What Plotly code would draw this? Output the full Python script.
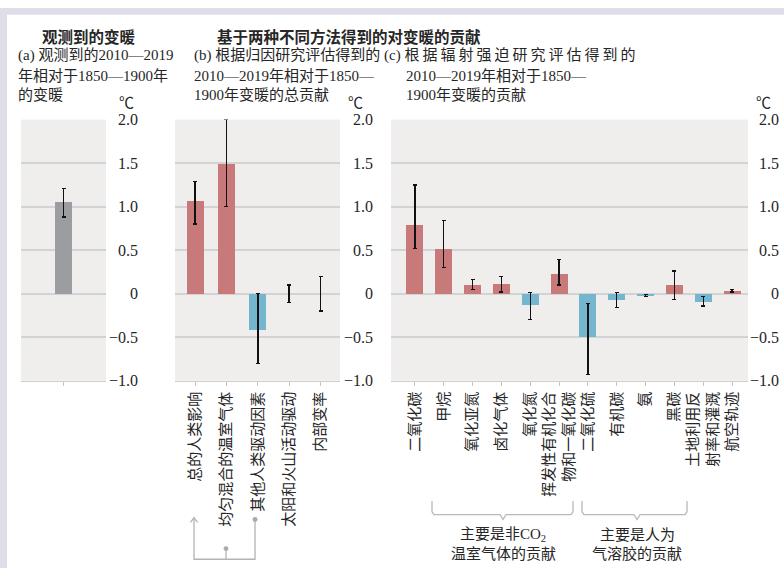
import plotly.graph_objects as go

W, H = 784, 577

# ---------------- data ----------------
a_labels = [""]
a_values = [1.06]
a_low = [0.88]
a_high = [1.21]

b_labels = ["总的人类影响", "均匀混合的温室气体", "其他人类驱动因素", "太阳和火山活动驱动", "内部变率"]
b_values = [1.07, 1.50, -0.41, 0.0, 0.0]
b_low = [0.80, 1.00, -0.80, -0.10, -0.20]
b_high = [1.29, 2.00, 0.00, 0.10, 0.20]

c_labels = ["二氧化碳", "甲烷", "氧化亚氮", "卤化气体", "氧化氮",
            "挥发性有机化合<br>物和一氧化碳", "二氧化硫", "有机碳", "氨", "黑碳",
            "土地利用反<br>射率和灌溉", "航空轨迹"]
c_values = [0.79, 0.52, 0.10, 0.11, -0.13, 0.23, -0.49, -0.07, -0.02, 0.10, -0.09, 0.03]
c_low = [0.52, 0.30, 0.05, 0.02, -0.30, 0.10, -0.93, -0.16, -0.03, -0.07, -0.14, 0.02]
c_high = [1.25, 0.84, 0.16, 0.20, 0.01, 0.39, -0.11, 0.01, -0.01, 0.26, -0.03, 0.045]

y_tickvals = [-1.0, -0.5, 0, 0.5, 1.0, 1.5, 2.0]
y_ticktext = ["−1.0", "−0.5", "0", "0.5", "1.0", "1.5", "2.0"]

# ---------------- style ----------------
RED = "#c77a79"
BLUE = "#73b6cd"
GREY = "#9c9da1"
BG = "#efeeec"
GRID = "#d3d3d3"
TXT = "#262626"
FONT = "Liberation Serif, Noto Sans CJK SC"
CJK_BOLD = "Noto Sans CJK SC"


def px(x):
    return x / W


def py(y):
    return 1 - y / H


def colors_for(vals):
    return [RED if v > 0 else BLUE for v in vals]


def err(vals, lo, hi):
    return dict(type="data", symmetric=False,
                array=[h - v for v, h in zip(vals, hi)],
                arrayminus=[v - l for v, l in zip(vals, lo)],
                color="#111111", thickness=1.4, width=2)


fig = go.Figure()
fig.add_trace(go.Bar(x=a_labels, y=a_values, marker_color=GREY, width=0.21,
                     error_y=err(a_values, a_low, a_high), xaxis="x", yaxis="y"))
fig.add_trace(go.Bar(x=b_labels, y=b_values, marker_color=colors_for(b_values), width=0.54,
                     error_y=err(b_values, b_low, b_high), xaxis="x2", yaxis="y2"))
fig.add_trace(go.Bar(x=c_labels, y=c_values, marker_color=colors_for(c_values), width=0.59,
                     error_y=err(c_values, c_low, c_high), xaxis="x3", yaxis="y3"))
for t in fig.data:
    t.marker.line.width = 0

ydom = [py(384), py(115)]
xdoms = [[px(21), px(106)], [px(175), px(340)], [px(391), px(748)]]
xranges = [[-0.5, 0.5], [-0.64, 4.62], [-0.83, 11.55]]
label_edges = [138, 373, 779]

layout = dict(
    width=W, height=H, autosize=False, margin=dict(l=0, r=0, t=0, b=0, pad=0),
    paper_bgcolor="white", plot_bgcolor=BG, showlegend=False,
    font=dict(family=FONT, size=15, color=TXT),
    bargap=0,
)
for i in range(3):
    sfx = "" if i == 0 else str(i + 1)
    layout["xaxis" + sfx] = dict(
        domain=xdoms[i], anchor="y" + sfx, type="category", range=xranges[i],
        showgrid=False, zeroline=False, showline=True, linecolor="#cfcfcf", linewidth=1,
        ticks="outside", ticklen=4, tickcolor="#c4c4c4", tickwidth=1,
        tickangle=-90, showticklabels=(i != 0),
        tickfont=dict(family="Noto Sans CJK SC", size=15, color=TXT),
        fixedrange=True,
    )
    layout["yaxis" + sfx] = dict(
        domain=ydom, anchor="free", position=px(label_edges[i]), side="left",
        range=[-1, 2], tickvals=y_tickvals, ticktext=y_ticktext,
        showgrid=True, gridcolor=GRID, gridwidth=1.5, zeroline=False,
        showline=False, ticks="", tickfont=dict(family="Liberation Serif", size=16, color=TXT),
        fixedrange=True,
    )

fig.update_layout(**layout)

# ---------------- text ----------------
ann = []


def text(x, y, s, size=15, family=FONT, xanchor="left", color=TXT):
    ann.append(dict(x=px(x), y=py(y), xref="paper", yref="paper", text=s, showarrow=False,
                    xanchor=xanchor, yanchor="middle",
                    font=dict(family=family, size=size, color=color)))


text(40, 29, "<b>观测到的变暖</b>", size=15.5, family=CJK_BOLD)
text(215, 29, "<b>基于两种不同方法得到的对变暖的贡献</b>", size=15.5, family=CJK_BOLD)

text(16, 49, "(a) 观测到的2010—2019")
text(16, 70, "年相对于1850—1900年")
text(16, 90, "的变暖")

text(192, 49, "(b) 根据归因研究评估得到的")
text(192, 70, "2010—2019年相对于1850—")
text(192, 90, "1900年变暖的总贡献")

text(382, 49, "(c) " + "\u2009".join("根据辐射强迫研究评估得到的"))
text(404, 70, "2010—2019年相对于1850—")
text(404, 90, "1900年变暖的贡献")

for cx in (126, 355, 763):
    text(cx, 98, "℃", size=15, xanchor="center")

text(503, 543, "主要是非CO<sub>2</sub>", xanchor="center")
text(503, 563, "温室气体的贡献", xanchor="center")
text(637, 543, "主要是人为", xanchor="center")
text(637, 563, "气溶胶的贡献", xanchor="center")

# ---------------- decorations ----------------
shapes = []
LAV = "#dfdde9"
shapes.append(dict(type="rect", xref="paper", yref="paper", x0=0, x1=1, y0=py(7), y1=1,
                   fillcolor=LAV, line=dict(width=0), layer="below"))
shapes.append(dict(type="rect", xref="paper", yref="paper", x0=0, x1=px(7), y0=0, y1=1,
                   fillcolor=LAV, line=dict(width=0), layer="below"))


def path(points, color="#b9b9b9", width=1.3):
    d = "M " + " L ".join(f"{px(x):.5f},{py(y):.5f}" for x, y in points)
    shapes.append(dict(type="path", xref="paper", yref="paper", path=d,
                       line=dict(color=color, width=width)))


def dot(x, y, r=2.5, color="#aaaaaa"):
    shapes.append(dict(type="circle", xref="paper", yref="paper",
                       x0=px(x - r), x1=px(x + r), y0=py(y + r), y1=py(y - r),
                       fillcolor=color, line=dict(width=0)))


# curly brackets under panel c
path([(432, 508), (432, 519), (434, 522), (500, 522), (503, 527), (506, 522), (571, 522), (573, 519), (573, 508)])
path([(582, 508), (582, 519), (584, 522), (634, 522), (637, 527), (640, 522), (685, 522), (687, 519), (687, 508)])

# connector under panel b
path([(194, 526), (194, 568), (255, 568), (255, 527)], color="#b3b3b3")
path([(226, 557), (226, 568)], color="#b3b3b3")
path([(190.5, 530), (194, 525), (197.5, 530)], color="#b3b3b3")
dot(255, 527)
dot(226, 557)

fig.update_layout(annotations=ann, shapes=shapes)

fig.write_html("out.html", config={"responsive": False, "displayModeBar": False})
